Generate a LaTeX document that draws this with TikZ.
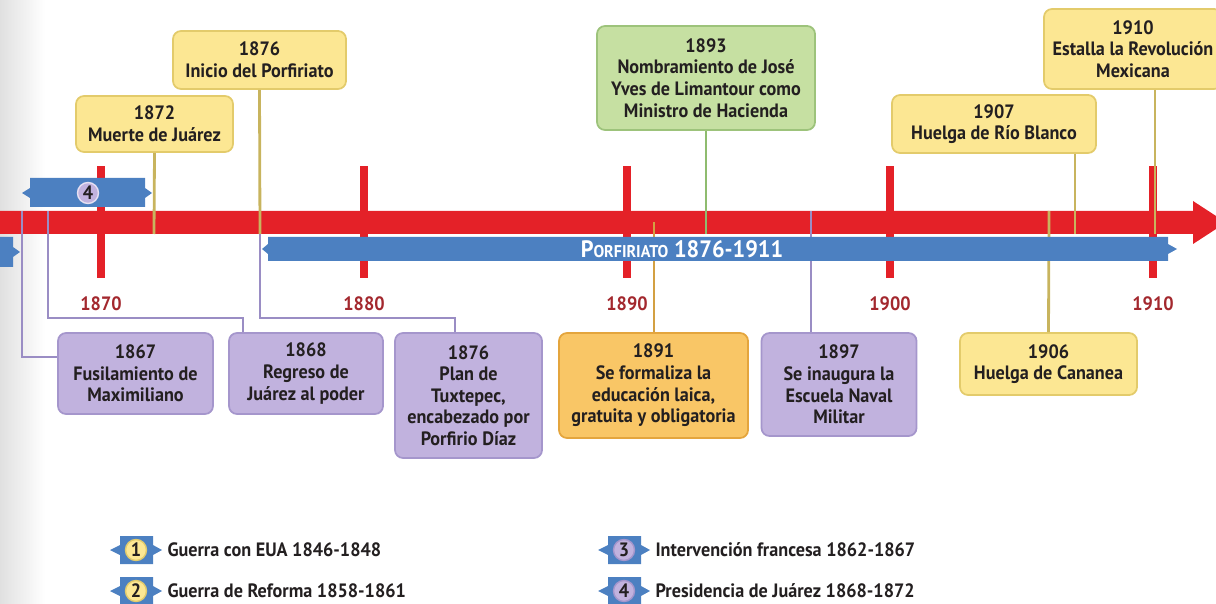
\documentclass[tikz,border=0pt]{standalone}
\usepackage{fontspec}
\setmainfont{PT Sans}[FakeStretch=0.94]
\usetikzlibrary{positioning}
\definecolor{timered}{HTML}{E42128}
\definecolor{barblue}{HTML}{4C80C1}
\definecolor{yearred}{HTML}{A3282E}
\definecolor{ink}{HTML}{231F20}
\definecolor{yfill}{HTML}{FCE793}
\definecolor{ydraw}{HTML}{E3CB6B}
\definecolor{ycol}{HTML}{C8B45E}
\definecolor{lfill}{HTML}{C1B2DE}
\definecolor{ldraw}{HTML}{A596CC}
\definecolor{lcol}{HTML}{9A8DC4}
\definecolor{gfill}{HTML}{C6E0A2}
\definecolor{gdraw}{HTML}{9DC37B}
\definecolor{gcol}{HTML}{8FBC6F}
\definecolor{ofill}{HTML}{F9C666}
\definecolor{odraw}{HTML}{E4A53D}
\definecolor{ocol}{HTML}{D3A043}
\tikzset{
  event/.style={rounded corners=0.16cm, line width=1pt, align=center, inner sep=0pt,
    text=ink, font=\bfseries\fontsize{11}{12.3}\selectfont},
  ybox/.style={event, fill=yfill, draw=ydraw},
  lbox/.style={event, fill=lfill, draw=ldraw},
  gbox/.style={event, fill=gfill, draw=gdraw},
  obox/.style={event, fill=ofill, draw=odraw},
  sz/.style 2 args={minimum width=#1*0.02cm, minimum height=#2*0.02cm},
  yline/.style={draw=ycol, line width=1.6pt},
  lline/.style={draw=lcol, line width=1.6pt},
  gline/.style={draw=gcol, line width=1.6pt},
  oline/.style={draw=ocol, line width=1.6pt},
  yearlabel/.style={text=yearred, font=\bfseries\fontsize{11}{12}\selectfont},
  num/.style={circle, minimum size=0.42cm, inner sep=0pt, line width=0.8pt,
    text=ink, font=\bfseries\fontsize{11}{12}\selectfont},
  legtext/.style={inner sep=0pt, anchor=west, text=ink, font=\bfseries\fontsize{11}{13}\selectfont}
}

\begin{document}
\begin{tikzpicture}[x=0.02cm, y=-0.02cm]
  \clip (0,0) rectangle (1216,604);
  \shade[left color=black!12, right color=white] (0,0) rectangle (45,604);

  \fill[timered] (0,211) -- (1193,211) -- (1193,201) -- (1226,222.5) -- (1193,244) -- (1193,234) -- (0,234) -- cycle;
  \foreach \yr [count=\i] in {1870,1880,1890,1900,1910} {
    \fill[timered] ({97+263*(\i-1)},166) rectangle ++(8,112);
    \node[yearlabel] (y\yr) at ({101+263*(\i-1)},304) {\yr};
  }

  \coordinate (r1872) at (154,234);
  \coordinate (r1876) at (260,234);
  \coordinate (r1893) at (706,234);
  \coordinate (r1907) at (1075,234);
  \coordinate (r1910) at (1155,234);
  \coordinate (t1867) at (22,211);
  \coordinate (t1868) at (48,211);
  \coordinate (t1891) at (654,222);
  \coordinate (t1897) at (811,211);
  \coordinate (t1906) at (1049,211);
  \coordinate (k1867) at (22,357);
  \coordinate (k1868) at (243,318);
  \coordinate (k1876) at (455,318);

  \node[ybox, sz={157}{56}] (m1872) at (154.5,124) {1872\\Muerte de Juárez};
  \node[ybox, sz={173}{58}] (m1876) at (259.5,60) {1876\\Inicio del Porfiriato};
  \node[gbox, sz={218}{104}] (m1893) at (706,78) {1893\\Nombramiento de José\\Yves de Limantour como\\Ministro de Hacienda};
  \node[ybox, sz={204}{58}] (m1907) at (994,124) {1907\\Huelga de Río Blanco};
  \node[ybox, sz={178}{80}] (m1910) at (1133,49) {1910\\Estalla la Revolución\\Mexicana};

  \node[lbox, sz={155}{81}] (e1867) at (135.5,373.5) {1867\\Fusilamiento de\\Maximiliano};
  \node[lbox, sz={154}{81}] (e1868) at (306,373.5) {1868\\Regreso de\\Juárez al poder};
  \node[lbox, sz={147}{125}] (e1876) at (468.5,395.5) {1876\\Plan de\\Tuxtepec,\\encabezado por\\Porfirio Díaz};
  \node[obox, sz={189}{105}] (e1891) at (653.5,385.5) {1891\\Se formaliza la\\educación laica,\\gratuita y obligatoria};
  \node[lbox, sz={155}{103}] (e1897) at (839,384.5) {1897\\Se inaugura la\\Escuela Naval\\Militar};
  \node[ybox, sz={177}{62}] (e1906) at (1048.5,364) {1906\\Huelga de Cananea};

  \draw[yline] (m1872.south) -- (r1872);
  \draw[yline] (m1876.south) -- (r1876);
  \draw[gline] (m1893.south) -- (r1893);
  \draw[yline] (m1907.south -| r1907) -- (r1907);
  \draw[yline] (m1910.south -| r1910) -- (r1910);
  \draw[lline] (t1867) -- (k1867) -- (k1867 -| e1867.west);
  \draw[lline] (t1868) |- (k1868) -- (k1868 |- e1868.north);
  \draw[lline] (r1876) |- (k1876) -- (k1876 |- e1876.north);
  \draw[oline] (t1891) -- (t1891 |- e1891.north);
  \draw[lline] (t1897) -- (t1897 |- e1897.north);
  \draw[yline] (t1906) -- (e1906.north);

  \fill[barblue] (268,237) -- (1168,237) -- (1168,244) -- (1177,249) -- (1168,254) -- (1168,261) -- (268,261) -- (268,254) -- (262,249) -- (268,244) -- cycle;
  \node[text=white, font=\bfseries\fontsize{13.5}{15}\selectfont] (porf) at (682,249)
    {P{\fontsize{9.7}{12}\selectfont ORFIRIATO} 1876-1911};
  \fill[barblue] (30,178) -- (145,178) -- (145,188) -- (152,193) -- (145,198) -- (145,207) -- (30,207) -- (30,198) -- (22,193) -- (30,188) -- cycle;
  \node[num, fill=lfill, draw=white!60!lfill] (n4) at (88,193) {4};
  \fill[barblue] (-5,237) -- (13,237) -- (13,247) -- (20,252) -- (13,257) -- (13,267) -- (-5,267) -- cycle;

  \foreach \n/\x/\y/\c/\d/\txt in {1/136/550/yfill/ydraw/Guerra con EUA 1846-1848,
      2/136/591/yfill/ydraw/Guerra de Reforma 1858-1861,
      3/624/550/lfill/ldraw/Intervención francesa 1862-1867,
      4/624/591/lfill/ldraw/Presidencia de Juárez 1868-1872} {
    \fill[barblue] ({\x-16},{\y-14}) -- ({\x+17},{\y-14}) -- ({\x+17},{\y-5}) -- ({\x+26},\y) -- ({\x+17},{\y+5})
      -- ({\x+17},{\y+14}) -- ({\x-16},{\y+14}) -- ({\x-16},{\y+5}) -- ({\x-26},\y) -- ({\x-16},{\y-5}) -- cycle;
    \node[num, fill=\c, draw=\d] (k\n) at (\x,\y) {\n};
    \node[legtext, right=0.4cm of k\n] (l\n) {\txt};
  }
\end{tikzpicture}
\end{document}
